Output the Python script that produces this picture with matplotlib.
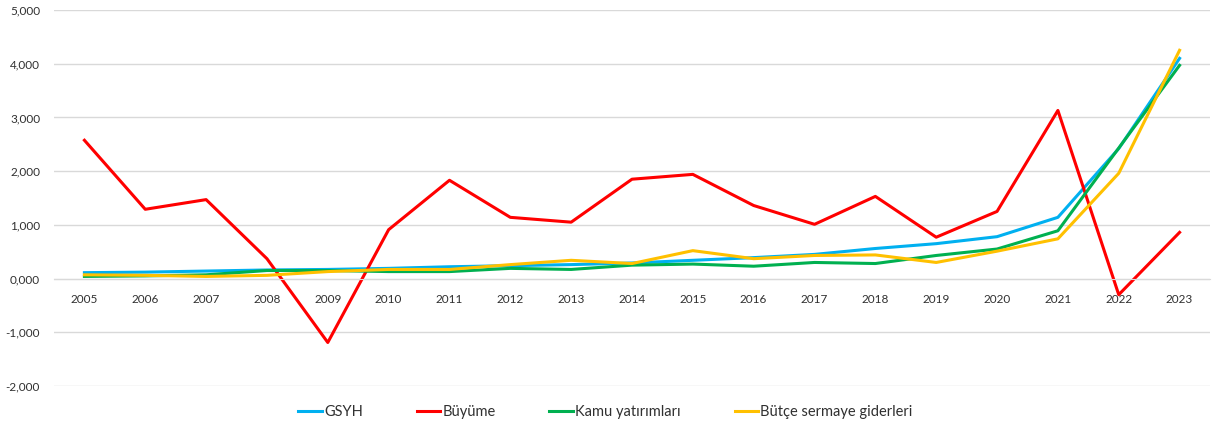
import matplotlib.pyplot as plt
from matplotlib.ticker import FuncFormatter

years = [str(y) for y in range(2005, 2024)]
gsyh = [0.11, 0.12, 0.14, 0.16, 0.17, 0.19, 0.22, 0.24, 0.26, 0.29,
        0.34, 0.39, 0.45, 0.56, 0.65, 0.78, 1.14, 2.42, 4.10]
buyume = [2.575, 1.29, 1.47, 0.37, -1.19, 0.91, 1.83, 1.14, 1.05, 1.85,
          1.94, 1.36, 1.01, 1.53, 0.77, 1.25, 3.13, -0.30, 0.86]
kamu = [0.04, 0.05, 0.07, 0.15, 0.15, 0.13, 0.13, 0.19, 0.17, 0.25,
        0.27, 0.23, 0.30, 0.28, 0.43, 0.55, 0.89, 2.43, 3.97]
butce = [0.07, 0.06, 0.04, 0.06, 0.13, 0.17, 0.17, 0.26, 0.34, 0.28,
         0.52, 0.37, 0.43, 0.44, 0.30, 0.51, 0.74, 1.96, 4.25]

plt.rcParams['font.family'] = ['Lato', 'DejaVu Sans']

fig = plt.figure(figsize=(12.16, 4.30), dpi=100)
ax = fig.add_axes([54 / 1216, 44 / 430, 1156 / 1216, 376 / 430])

x = range(len(years))
ax.plot(x, gsyh, color='#00b0f0', lw=2.2, label='GSYH')
ax.plot(x, buyume, color='#ff0000', lw=2.2, label='Büyüme')
ax.plot(x, kamu, color='#00b050', lw=2.2, label='Kamu yatırımları')
ax.plot(x, butce, color='#ffc000', lw=2.2, label='Bütçe sermaye giderleri')

ax.set_xlim(-0.5, len(years) - 0.5)
ax.set_ylim(-2, 5)
ax.set_yticks(range(-2, 6))
ax.yaxis.set_major_formatter(FuncFormatter(lambda v, p: f"{v:.3f}".replace('.', ',')))
ax.set_xticks(list(x))
ax.set_xticklabels(years)

ax.grid(axis='y', color='#d9d9d9', lw=1)
ax.set_axisbelow(True)
for s in ['top', 'right', 'left']:
    ax.spines[s].set_visible(False)
ax.spines['bottom'].set_position(('data', 0))
ax.spines['bottom'].set_color('#d9d9d9')
ax.tick_params(axis='both', length=0, labelsize=8.5, colors='#303030')
ax.tick_params(axis='x', pad=11)
ax.tick_params(axis='y', pad=10)

ax.legend(loc='center', bbox_to_anchor=(0.477, -0.07), ncol=4, frameon=False,
          fontsize=10.5, handlelength=1.6, handletextpad=0.15, columnspacing=3.7,
          labelcolor='#303030')

fig.savefig('out.png', dpi=100)
